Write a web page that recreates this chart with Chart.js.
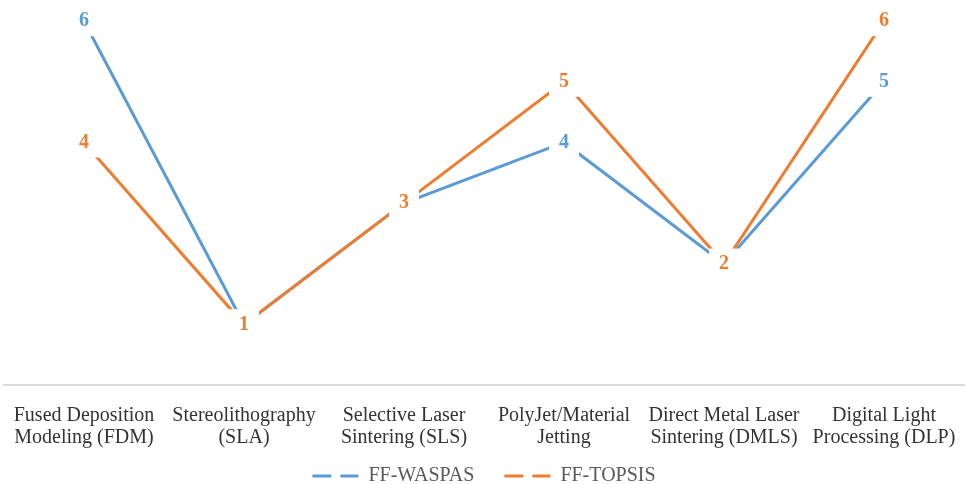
<!DOCTYPE html>
<html>
<head>
<meta charset="utf-8">
<script src="https://cdn.jsdelivr.net/npm/chart.js@4/dist/chart.umd.min.js"></script>
<style>
  body { margin: 0; background: #fff; }
  #wrap { width: 966px; height: 484px; }
</style>
</head>
<body>
<div id="wrap"><canvas id="chart"></canvas></div>
<script>
// Chart data
const categories = [
  ["Fused Deposition", "Modeling (FDM)"],
  ["Stereolithography", "(SLA)"],
  ["Selective Laser", "Sintering (SLS)"],
  ["PolyJet/Material", "Jetting"],
  ["Direct Metal Laser", "Sintering (DMLS)"],
  ["Digital Light", "Processing (DLP)"]
];
const waspas = [6, 1, 3, 4, 2, 5];
const topsis = [4, 1, 3, 5, 2, 6];

const blue = "#5B9BD5";
const orange = "#ED7D31";
const serif = "'Liberation Serif', 'Times New Roman', serif";

// Excel-style labels centred on the points, white box cuts the lines
const pointLabels = {
  id: "pointLabels",
  afterDatasetsDraw(chart) {
    const ctx = chart.ctx;
    ctx.save();
    ctx.font = "bold 20px " + serif;
    ctx.textAlign = "center";
    ctx.textBaseline = "middle";
    const metas = chart._getSortedDatasetMetas().slice().reverse();
    metas.forEach((meta) => {
      const ds = chart.data.datasets[meta.index];
      meta.data.forEach((pt, i) => {
        ctx.fillStyle = "#fff";
        ctx.fillRect(pt.x - 15, pt.y - 15, 30, 30);
        ctx.fillStyle = ds.borderColor;
        ctx.fillText(String(ds.data[i]), pt.x, pt.y);
      });
    });
    ctx.restore();
  }
};

// small legend box, top pulled up so the wide label padding doesn't squeeze the plot
const legendBox = {
  id: "legendBox",
  beforeInit(chart) {
    if (!chart.legend) return;
    const fit = chart.legend.fit;
    chart.legend.fit = function () {
      fit.call(this);
      this.height = 31;
    };
  },
  afterLayout(chart) {
    if (!chart.legend) return;
    chart.legend.top -= 17;
  }
};

new Chart(document.getElementById("chart"), {
  type: "line",
  data: {
    labels: categories,
    datasets: [
      {
        label: "FF-WASPAS",
        data: waspas,
        borderColor: blue,
        backgroundColor: blue,
        borderWidth: 3,
        pointRadius: 0,
        tension: 0,
        order: 1
      },
      {
        label: "FF-TOPSIS",
        data: topsis,
        borderColor: orange,
        backgroundColor: orange,
        borderWidth: 3,
        pointRadius: 0,
        tension: 0,
        order: 0
      }
    ]
  },
  options: {
    responsive: true,
    maintainAspectRatio: false,
    animation: false,
    layout: { padding: { left: 4, right: 2, top: 3, bottom: 0 } },
    plugins: {
      tooltip: { enabled: false },
      legend: {
        position: "bottom",
        labels: {
          usePointStyle: true,
          pointStyleWidth: 46,
          boxHeight: 10,
          padding: 30,
          color: "#595959",
          font: { family: serif, size: 20, lineHeight: 1.0 },
          generateLabels(chart) {
            return chart.data.datasets.map((ds, i) => ({
              text: ds.label,
              datasetIndex: i,
              pointStyle: "line",
              strokeStyle: ds.borderColor,
              fillStyle: ds.borderColor,
              lineWidth: 3,
              lineDash: [19, 9],
              fontColor: "#595959"
            }));
          }
        }
      }
    },
    scales: {
      x: {
        offset: true,
        grid: { display: false, drawTicks: false },
        border: { color: "#d9d9d9", width: 2 },
        afterFit(scale) {
          scale.height = 68;
          scale.paddingLeft = 0;
          scale.paddingRight = 0;
        },
        ticks: {
          color: "#333333",
          padding: 20,
          maxRotation: 0,
          autoSkip: false,
          font: { family: serif, size: 20, lineHeight: 1.1 }
        }
      },
      y: {
        display: false,
        min: 0,
        max: 6.3
      }
    }
  },
  plugins: [pointLabels, legendBox]
});
</script>
</body>
</html>
